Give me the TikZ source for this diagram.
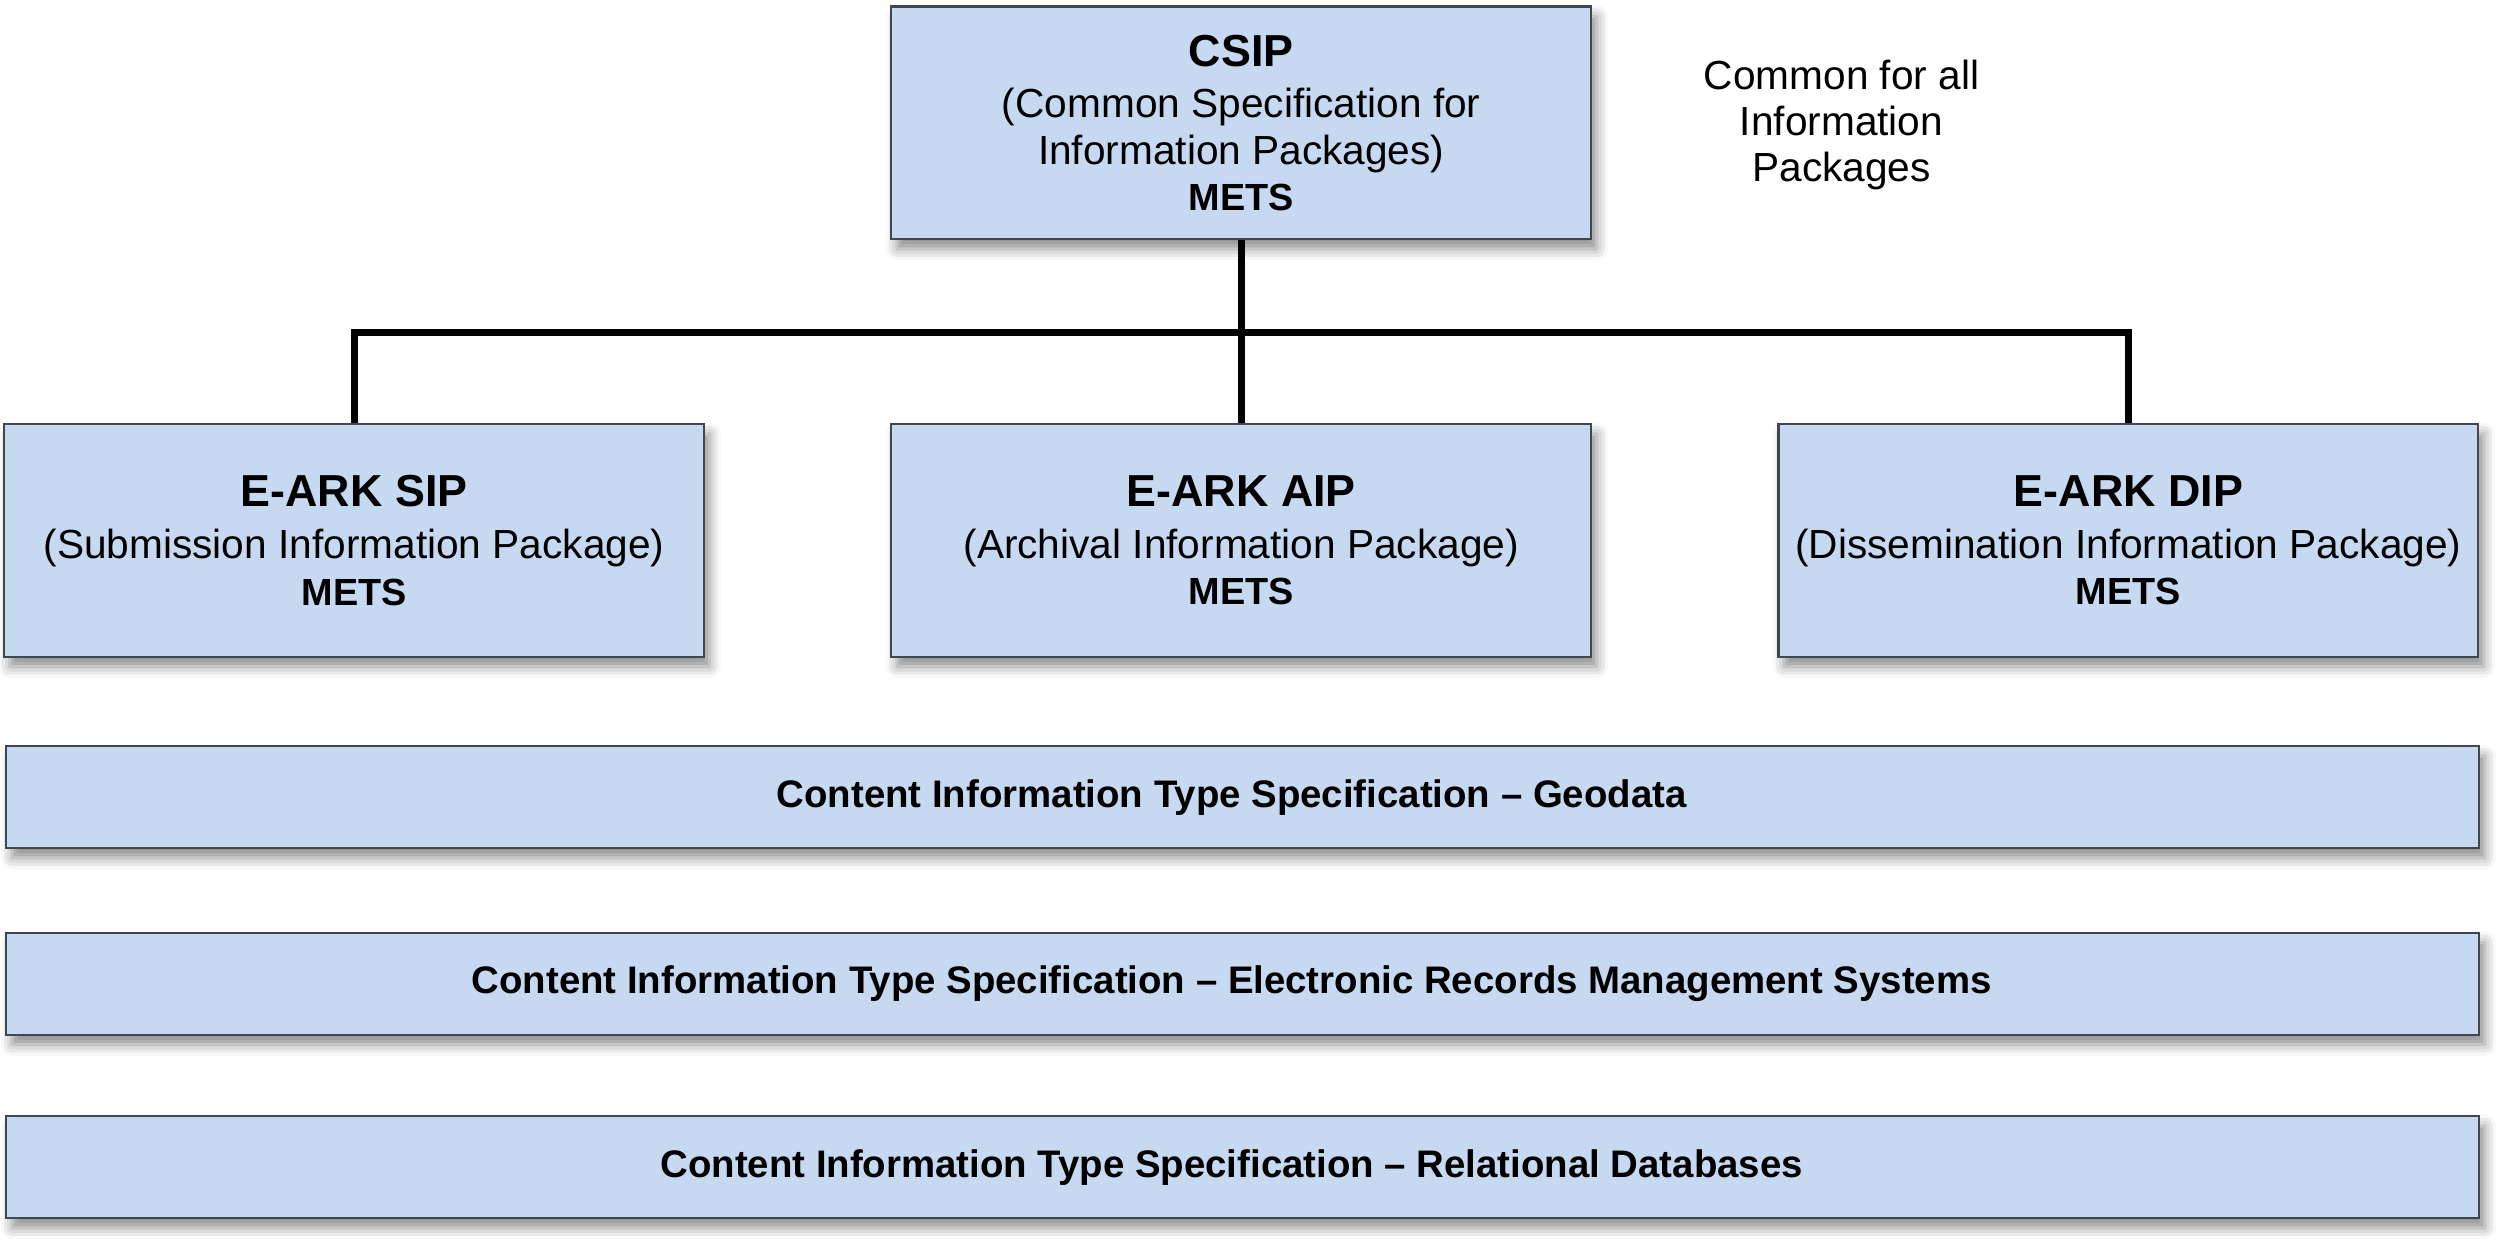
\documentclass[tikz,border=0pt]{standalone}
\usepackage{fontspec}
\setmainfont{Liberation Sans}
\usetikzlibrary{positioning,shadows.blur}
\definecolor{boxblue}{HTML}{C6D9F1}
\definecolor{boxline}{HTML}{3F4851}
\tikzset{
  pkgbox/.style={draw=boxline,line width=0.8pt,fill=boxblue,minimum width=8.78cm,minimum height=2.92cm,
    align=center,inner sep=0pt,font=\fontsize{14.5}{16.5}\selectfont,
    blur shadow={shadow xshift=2pt,shadow yshift=-3.5pt,shadow blur radius=4pt,shadow opacity=45}},
  citbar/.style={pkgbox,minimum width=31.02cm,minimum height=1.28cm,font=\bfseries\fontsize{13.7}{16}\selectfont},
  bus/.style={line width=2.5pt,black}
}
\newcommand{\pkgtitle}[1]{{\bfseries\fontsize{16}{19}\selectfont #1}\\[2pt]}
\newcommand{\metsline}{\\{\bfseries\fontsize{13.5}{16}\selectfont METS}}
\begin{document}
\begin{tikzpicture}
\useasboundingbox (0,0) rectangle (31.36,-15.555);
\node[pkgbox] (csip) at (15.57,-1.54) {\pkgtitle{CSIP}(Common Specification for\\Information Packages)\metsline};
\node[pkgbox] (aip) at (15.57,-6.78) {\pkgtitle{E-ARK AIP}(Archival Information Package)\metsline};
\node[pkgbox,left=2.32cm of aip] (sip) {\pkgtitle{E-ARK SIP}(Submission Information Package)\metsline};
\node[pkgbox,right=2.32cm of aip] (dip) {\pkgtitle{E-ARK DIP}(Dissemination Information Package)\metsline};
\node[align=center,font=\fontsize{14.5}{16.5}\selectfont] (common) at (23.1,-1.57) {Common for all\\Information\\Packages};
% content information type specifications
\node[citbar] (geo) at (15.59,-10.0) {Content Information Type Specification -- Geodata\hspace*{0.28cm}};
\node[citbar] (erms) at (15.59,-12.34) {Content Information Type Specification -- Electronic Records Management Systems\hspace*{0.28cm}};
\node[citbar] (rdb) at (15.59,-14.64) {Content Information Type Specification -- Relational Databases\hspace*{0.28cm}};
% tree
\coordinate (busmid) at ([yshift=-1.16cm]csip.south);
\draw[bus] (csip.south)--(aip.north);
\draw[bus] (sip.north)|-(busmid)-|(dip.north);
\end{tikzpicture}
\end{document}
